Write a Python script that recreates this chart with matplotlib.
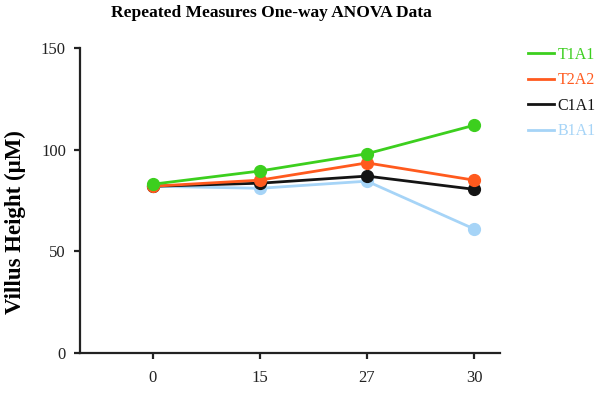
import matplotlib.pyplot as plt

# datos
dias = ["0", "15", "27", "30"]
t1a1 = [83, 89.5, 98, 112]
t2a2 = [82, 85, 93.5, 85]
c1a1 = [82, 83.5, 87, 80.5]
b1a1 = [82, 81, 84.5, 61]

series = [
    ("B1A1", b1a1, "#a6d4f7"),
    ("C1A1", c1a1, "#141414"),
    ("T2A2", t2a2, "#ff5a1e"),
    ("T1A1", t1a1, "#3ccf1e"),
]

plt.rcParams["font.family"] = ["Liberation Serif", "DejaVu Serif"]

fig = plt.figure(figsize=(6, 3.97), dpi=100)
ax = fig.add_axes([0.133, 0.111, 0.70, 0.768])

x = range(len(dias))
handles = {}
for nombre, vals, color in series:
    (ln,) = ax.plot(x, vals, color=color, lw=2, marker="o", ms=8.5,
                    label=nombre, zorder=3)
    handles[nombre] = ln

ax.set_xlim(-0.68, 3.24)
ax.set_ylim(0, 150)
ax.set_xticks(list(x))
ax.set_xticklabels(dias)
ax.set_yticks([0, 50, 100, 150])
ax.spines["top"].set_visible(False)
ax.spines["right"].set_visible(False)
for s in ["left", "bottom"]:
    ax.spines[s].set_linewidth(1.6)
    ax.spines[s].set_color("#222222")
ax.tick_params(axis="both", width=1.6, length=4, labelsize=12, colors="#222222")
ax.tick_params(axis="y", pad=6)
ax.tick_params(axis="x", pad=8)

ax.set_ylabel("Villus Height (μM)", fontsize=16.5, fontweight="bold")
ax.yaxis.set_label_coords(-0.128, 0.43)
fig.text(0.453, 0.968, "Repeated Measures One-way ANOVA Data", ha="center",
         va="center", fontsize=12.5, fontweight="bold")

orden = ["T1A1", "T2A2", "C1A1", "B1A1"]
leg = ax.legend([handles[n] for n in orden], orden, loc="upper left",
                bbox_to_anchor=(528 / 600, 1 - 47 / 397),
                bbox_transform=fig.transFigure, borderpad=0, borderaxespad=0,
                frameon=False, handlelength=1.6, handletextpad=0.25,
                labelspacing=0.59, fontsize=11.5, labelcolor="linecolor")
for h in leg.legend_handles:
    h.set_marker("")

fig.savefig("out.png", dpi=100)
